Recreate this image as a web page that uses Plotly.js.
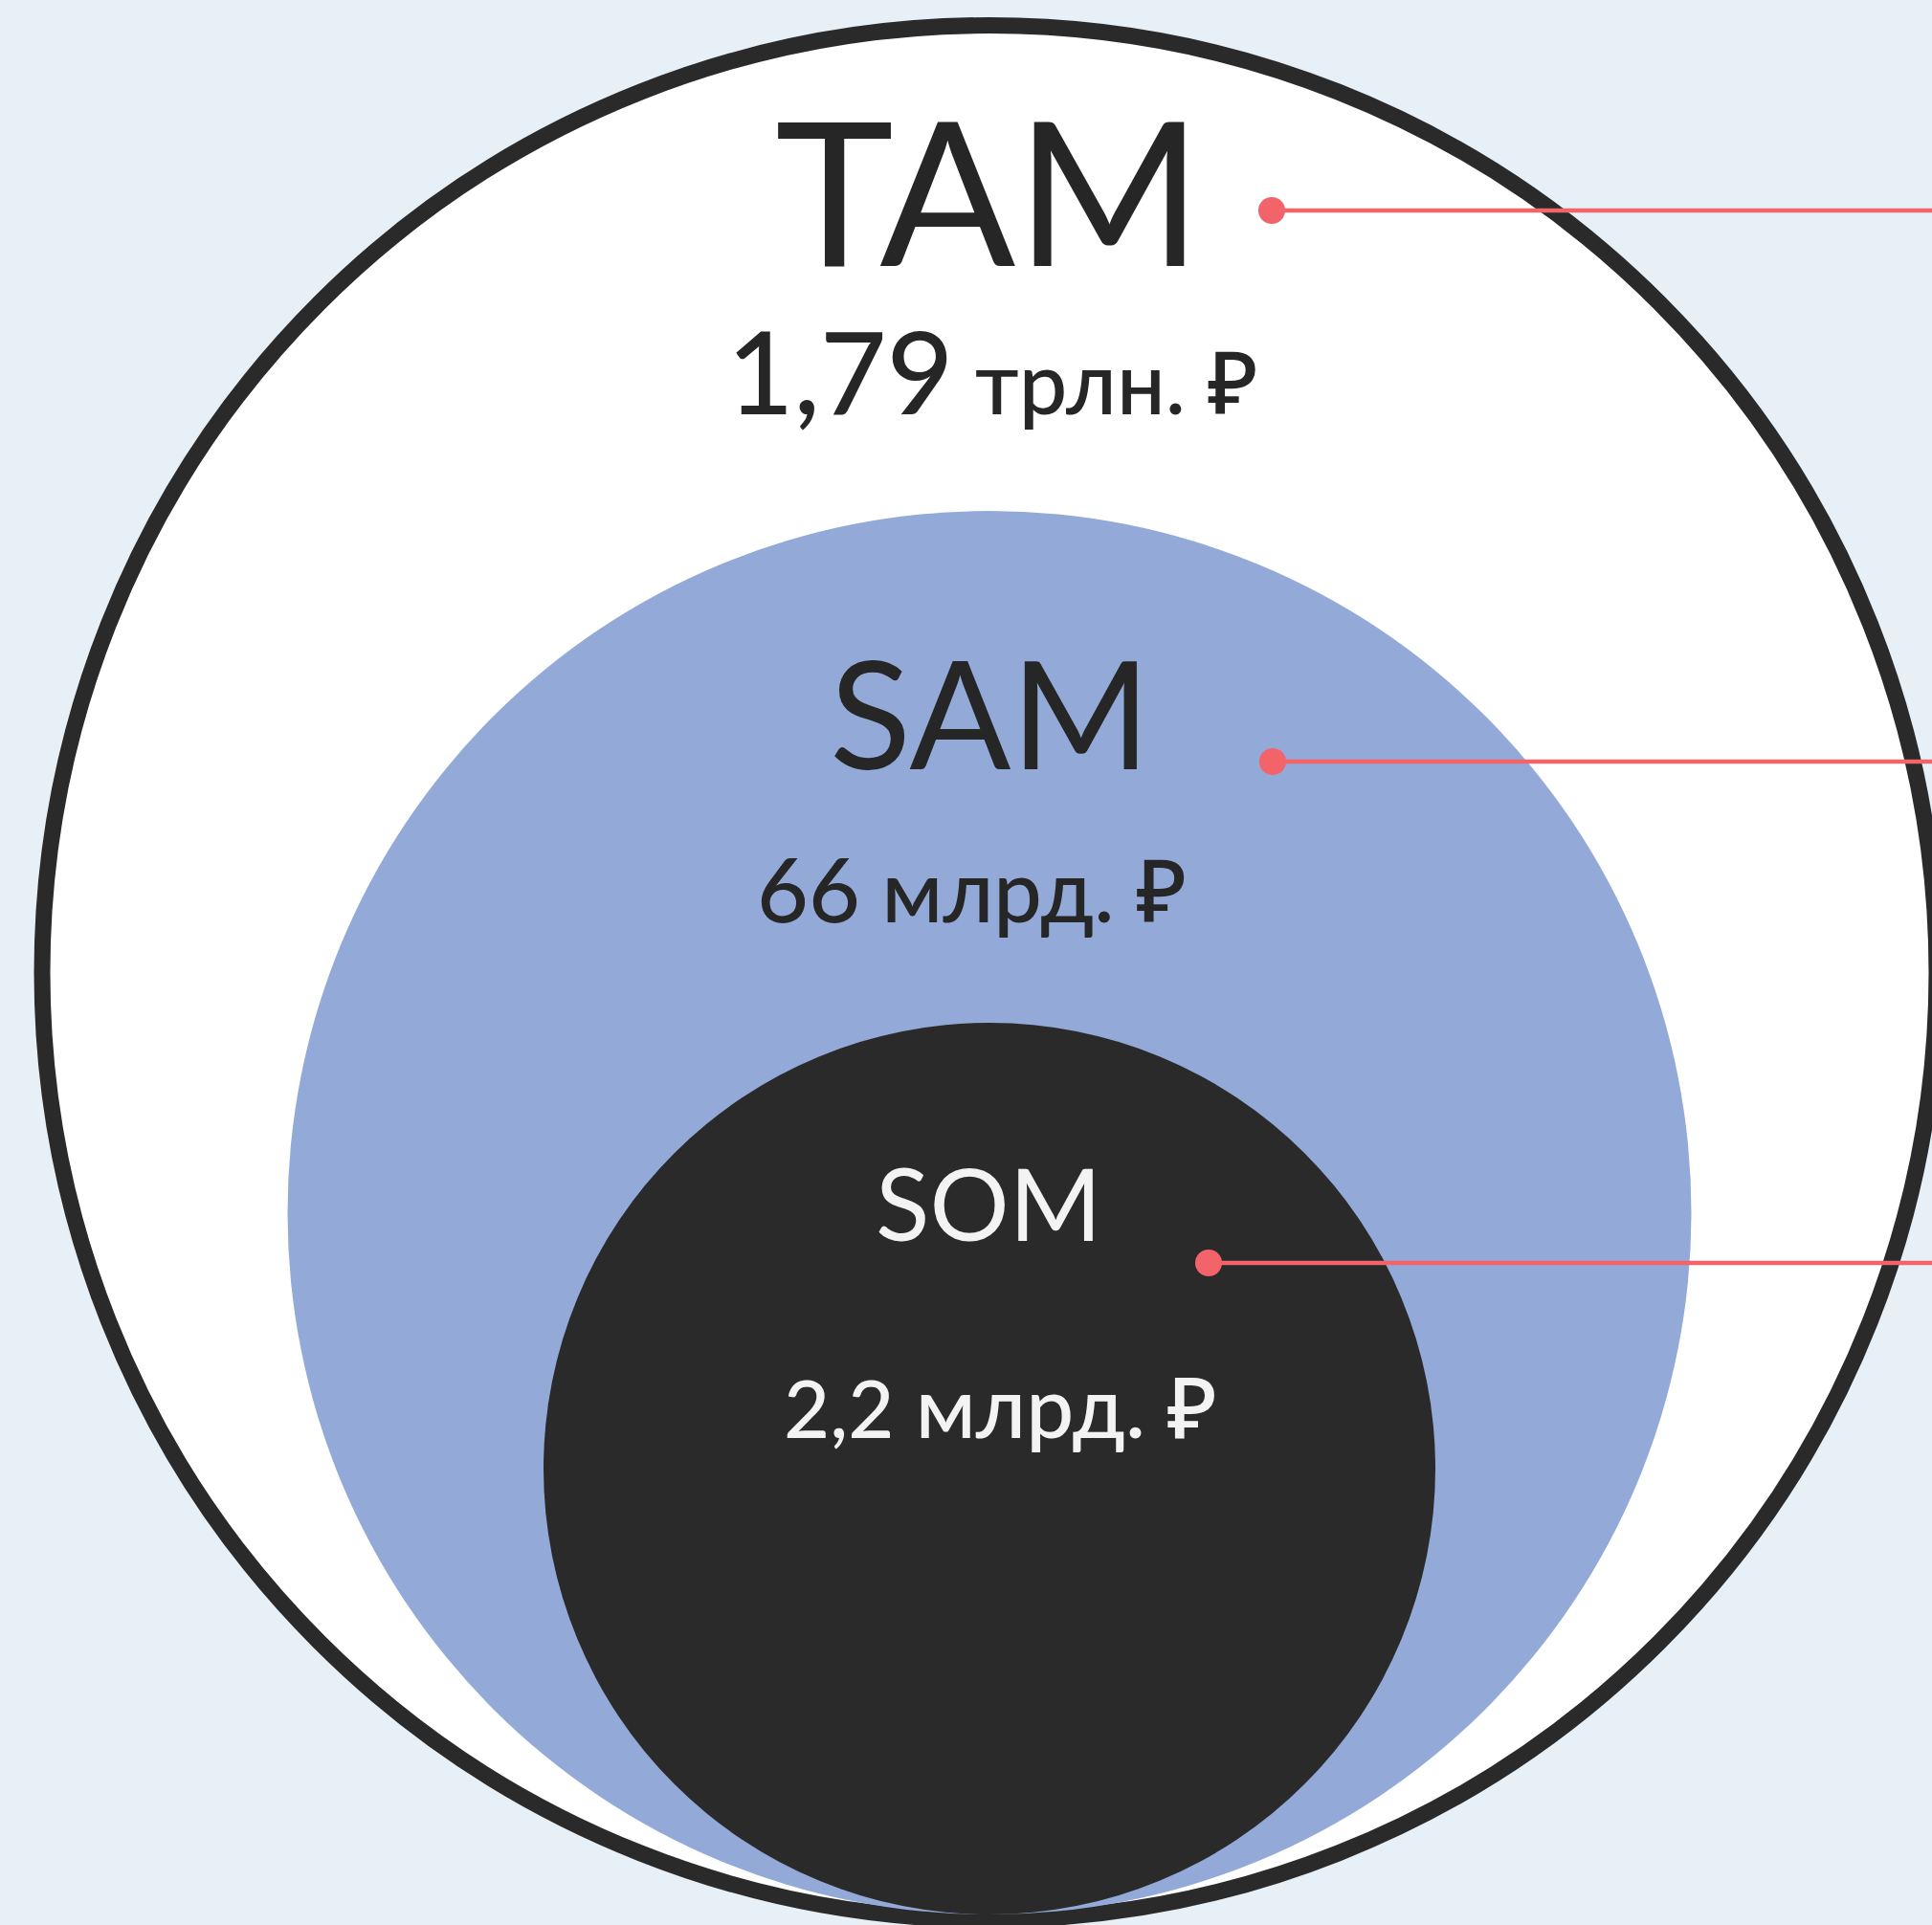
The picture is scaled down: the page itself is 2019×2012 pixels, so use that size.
<!DOCTYPE html>
<html>
<head>
<meta charset="utf-8">
<script src="https://cdn.plot.ly/plotly-3.0.1.min.js"></script>
<style>
  html, body { margin: 0; padding: 0; background: #e7eff7; }
  #chart { width: 2019px; height: 2012px; }
</style>
</head>
<body>
<div id="chart"></div>
<script>
// ---- data ----
const labels  = ['TAM', 'SAM', 'SOM'];
const amounts = ['1,79', '66', '2,2'];
const units   = ['трлн. ₽', 'млрд. ₽', 'млрд. ₽'];

// nested circles (pixel-space geometry of the reference)
const circleRadius  = [990, 733.5, 466];
const circleCenterX = [1034, 1034, 1034];
const circleCenterY = [1016.5, 1267.5, 1535];

// pointer dots and leader lines
const pointerX = [1329, 1330, 1263];
const pointerY = [220, 796, 1320];
const pointerEndX = 2030;

// ---- styles ----
const W = 2019, H = 2012;
const FONT = 'Lato, "Noto Sans", "DejaVu Sans", sans-serif';
const circleFill   = ['#ffffff', '#93aad8', '#2a2a2a'];
const circleLine   = [{color: '#2a2a2a', width: 17}, {width: 0}, {width: 0}];
const textColor    = ['#262626', '#262626', '#f3f3f3'];
const titleSize    = [210, 157, 104];
const titleBase    = [278, 804, 1297];
const titleX       = [1033, 1034, 1033];
const amountSize   = [120, 93, 83];
const unitSize     = [90, 90, 89];
const amountBase   = [433, 964, 1503];
const amountX      = [1037, 1015, 1045];
const RED = '#f2636a';
const MID = 0.387; // (ascent - descent)/2 for Lato, in em

const shapes = labels.map((_, i) => ({
  type: 'circle', xref: 'x', yref: 'y', layer: 'below',
  x0: circleCenterX[i] - circleRadius[i], x1: circleCenterX[i] + circleRadius[i],
  y0: circleCenterY[i] - circleRadius[i], y1: circleCenterY[i] + circleRadius[i],
  fillcolor: circleFill[i], line: circleLine[i]
}));

const annotations = [];
labels.forEach((lab, i) => {
  annotations.push({
    x: titleX[i], y: titleBase[i] - MID * titleSize[i], xref: 'x', yref: 'y',
    xanchor: 'center', yanchor: 'middle', showarrow: false,
    text: lab, font: {family: FONT, size: titleSize[i], color: textColor[i], weight: 400}
  });
  const big = Math.max(amountSize[i], unitSize[i]);
  annotations.push({
    x: amountX[i], y: amountBase[i] - MID * big, xref: 'x', yref: 'y',
    xanchor: 'center', yanchor: 'middle', showarrow: false,
    text: '<span style="font-size:' + amountSize[i] + 'px">' + amounts[i] + '</span> ' + units[i],
    font: {family: FONT, size: unitSize[i], color: textColor[i], weight: 500}
  });
});

const lineTraces = labels.map((lab, i) => ({
  type: 'scatter', mode: 'lines',
  x: [pointerX[i], pointerEndX], y: [pointerY[i], pointerY[i]],
  line: {color: RED, width: 4.5},
  hoverinfo: 'skip', showlegend: false, cliponaxis: false
}));
const dotTrace = {
  type: 'scatter', mode: 'markers',
  x: pointerX, y: pointerY,
  marker: {color: RED, size: 28, opacity: 1, line: {width: 0}},
  hoverinfo: 'skip', showlegend: false, cliponaxis: false
};

const layout = {
  width: W, height: H,
  margin: {l: 0, r: 0, t: 0, b: 0, pad: 0},
  paper_bgcolor: '#e7eff7', plot_bgcolor: 'rgba(0,0,0,0)',
  xaxis: {range: [0, W], visible: false, fixedrange: true},
  yaxis: {range: [H, 0], visible: false, fixedrange: true},
  shapes: shapes, annotations: annotations, showlegend: false
};

Plotly.newPlot('chart', lineTraces.concat([dotTrace]), layout, {displayModeBar: false, staticPlot: true});
</script>
</body>
</html>
